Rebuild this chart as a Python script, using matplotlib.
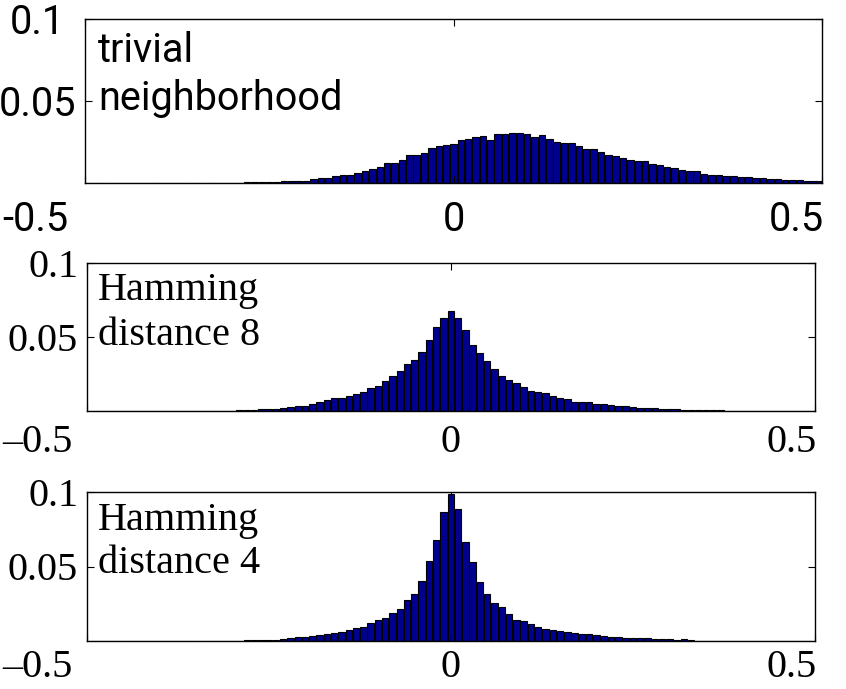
import numpy as np
import matplotlib
matplotlib.use("Agg")
import matplotlib.pyplot as plt
import matplotlib.transforms as mtransforms

# histogram bins: centers -0.5, -0.49, ..., 0.5
bin_centers = np.round(np.linspace(-0.5, 0.5, 101), 2)

trivial = [0, 0, 0, 0, 0, 0, 0, 0, 0, 0, 0, 0, 0, 0, 0,
           0.0001, 0.0001, 0.0001, 0.0002, 0.0002, 0.0003, 0.0003, 0.0004,
           0.0005, 0.0006, 0.0007, 0.0008, 0.0010, 0.0012,
           0.0014, 0.0015, 0.0022, 0.0033, 0.0033, 0.0045, 0.0051, 0.0049, 0.0063, 0.0076, 0.0088,
           0.0098, 0.0123, 0.0123, 0.0143, 0.0168, 0.0172, 0.0184, 0.0211, 0.0223, 0.0231,
           0.0239, 0.0262, 0.0268, 0.0280, 0.0284, 0.0264, 0.0297, 0.0297, 0.0307, 0.0305,
           0.0301, 0.0278, 0.0290, 0.0266, 0.0247, 0.0241, 0.0241, 0.0227, 0.0207, 0.0207,
           0.0192, 0.0172, 0.0162, 0.0153, 0.0139, 0.0135, 0.0133, 0.0117, 0.0108, 0.0096,
           0.0090, 0.0078, 0.0074, 0.0076, 0.0055, 0.0051, 0.0047, 0.0043, 0.0041, 0.0039,
           0.0037, 0.0031, 0.0031, 0.0025, 0.0022, 0.0018, 0.0018, 0.0018, 0.0014, 0.0014, 0.0012]

ham8 = [0, 0, 0, 0, 0, 0, 0, 0, 0, 0, 0, 0, 0, 0, 0,
        0.0001, 0.0001, 0.0002, 0.0002, 0.0002,
        0.0003, 0.0005, 0.0007, 0.0009, 0.0011, 0.0014, 0.0016, 0.0023, 0.0027, 0.0032,
        0.0036, 0.0045, 0.0059, 0.0072, 0.0085, 0.0086, 0.0104, 0.0117, 0.0128, 0.0158,
        0.0171, 0.0203, 0.0236, 0.0270, 0.0320, 0.0345, 0.0399, 0.0480, 0.0570, 0.0628,
        0.0678, 0.0626, 0.0547, 0.0448, 0.0390, 0.0336, 0.0286, 0.0236, 0.0207, 0.0187,
        0.0164, 0.0137, 0.0128, 0.0119, 0.0099, 0.0088, 0.0079, 0.0063, 0.0059, 0.0059,
        0.0045, 0.0045, 0.0038, 0.0034, 0.0032, 0.0027, 0.0020, 0.0018, 0.0018, 0.0016,
        0.0011, 0.0011, 0.0009, 0.0009, 0.0007, 0.0005, 0.0004, 0.0004, 0.0003, 0.0003,
        0.0002, 0.0001, 0.0001, 0.0001, 0.0001, 0, 0, 0, 0, 0, 0]

ham4 = [0, 0, 0, 0, 0, 0, 0, 0, 0, 0, 0, 0, 0, 0, 0,
        0.0001, 0.0001, 0.0001, 0.0002, 0.0002,
        0.0002, 0.0003, 0.0004, 0.0005, 0.0007, 0.0009, 0.0009, 0.0013, 0.0018, 0.0025,
        0.0025, 0.0036, 0.0040, 0.0047, 0.0054, 0.0058, 0.0074, 0.0084, 0.0097, 0.0120,
        0.0139, 0.0157, 0.0187, 0.0217, 0.0272, 0.0318, 0.0400, 0.0535, 0.0677, 0.0866,
        0.0987, 0.0884, 0.0662, 0.0527, 0.0399, 0.0313, 0.0258, 0.0227, 0.0178, 0.0142,
        0.0131, 0.0113, 0.0094, 0.0080, 0.0071, 0.0065, 0.0060, 0.0054, 0.0049, 0.0045,
        0.0040, 0.0036, 0.0027, 0.0027, 0.0022, 0.0022, 0.0018, 0.0018, 0.0016, 0.0013,
        0.0013, 0.0009, 0.0011, 0.0004, 0.0003, 0.0003, 0.0002, 0, 0, 0,
        0, 0, 0, 0, 0, 0, 0, 0, 0, 0, 0]

x_ticks = [-0.5, 0, 0.5]
y_ticks = [0.05, 0.1]

W, H = 846, 689
SANS = 'Roboto'
SERIF = 'Liberation Serif'

panels = [
    # values, text lines, font, size, x tick labels, rect px (left, right, top, bottom), x pad
    (trivial, ['trivial', 'neighborhood'], SANS, 28.5, ['-0.5', '0', '0.5'], (85, 822, 19, 183), 12),
    (ham8, ['Hamming', 'distance 8'], SERIF, 29, ['\u20130.5', '0', '0.5'], (86.5, 815, 263, 411), 9),
    (ham4, ['Hamming', 'distance 4'], SERIF, 29, ['\u20130.5', '0', '0.5'], (86.5, 815, 492, 641), 6),
]
text_y = [(0.74, 0.447), (0.748, 0.444), (0.743, 0.454)]


def shift(label, dx_px, dy_px=0):
    label.set_transform(label.get_transform() +
                        mtransforms.ScaledTranslation(dx_px / 100, dy_px / 100, fig.dpi_scale_trans))


fig = plt.figure(figsize=(W / 100, H / 100), dpi=100)

for k, ((vals, lines, fam, fs, xlabels, (l, r, t, b), xpad), ty) in enumerate(zip(panels, text_y)):
    ax = fig.add_axes([l / W, 1 - b / H, (r - l) / W, (b - t) / H])
    ax.bar(bin_centers, vals, width=0.0088, color='#000090',
           edgecolor='black', linewidth=0.8)
    ax.set_xlim(-0.5, 0.5)
    ax.set_ylim(0, 0.1)
    ax.set_xticks(x_ticks)
    ax.set_xticklabels(xlabels, family=fam, fontsize=fs)
    ax.set_yticks(y_ticks)
    ax.set_yticklabels(['0.05', '0.1'], family=fam, fontsize=fs)
    ax.tick_params(direction='in', length=5, width=0.8, top=True, right=True)
    ax.tick_params(axis='x', pad=xpad)
    ax.tick_params(axis='y', pad=6)
    for s in ax.spines.values():
        s.set_linewidth(1.0)

    # end labels sit flush with the figure edge / axis edge like the original
    xl = ax.get_xticklabels()
    xl[0].set_horizontalalignment('left')
    shift(xl[0], -(l - 2))
    xl[2].set_horizontalalignment('right')
    shift(xl[2], 2)
    if k == 0:
        shift(ax.get_yticklabels()[1], -12)

    x0 = (98 - l) / (r - l)
    ax.text(x0, ty[0], lines[0], transform=ax.transAxes, ha='left', va='baseline',
            family=fam, fontsize=fs)
    ax.text(x0, ty[1], lines[1], transform=ax.transAxes, ha='left', va='baseline',
            family=fam, fontsize=fs)

fig.savefig('out.png', dpi=100)
